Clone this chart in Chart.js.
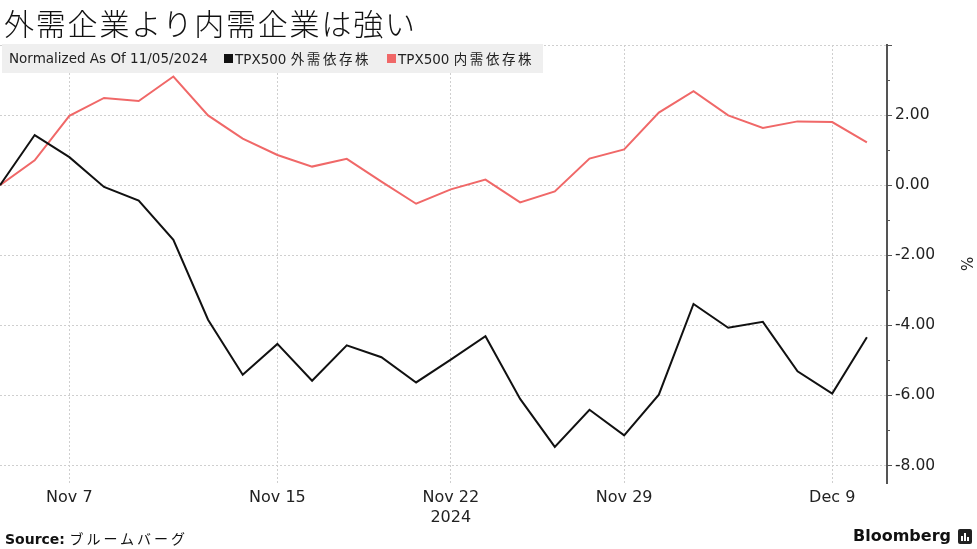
<!DOCTYPE html>
<html>
<head>
<meta charset="utf-8">
<script src="https://cdn.jsdelivr.net/npm/chart.js@4.4.1/dist/chart.umd.min.js"></script>
<style>
    body { margin: 0; background: #fff; }
    #wrap { position: relative; width: 977px; height: 549px; overflow: hidden; font-family: "DejaVu Sans", "Noto Sans CJK JP", sans-serif; }
    #chart { position: absolute; left: 0; top: 0; }
    .title { position: absolute; left: 4px; top: 0px; font-size: 30px; letter-spacing: 1.8px; color: #111; font-family: "Noto Sans CJK JP", sans-serif; font-weight: 300; }
    .legend { position: absolute; left: 2px; top: 44px; width: 541px; height: 29px; background: #efefef; font-size: 13.5px; color: #222; line-height: 29px; white-space: nowrap; }
    .legend span { position: absolute; top: 0; }
    .legend .sw { width: 9px; height: 9px; top: 10px; }
    .legend i { font-style: normal; letter-spacing: 2.6px; font-family: "Noto Sans CJK JP", sans-serif; }
    .source { position: absolute; left: 5px; top: 528px; font-size: 14px; color: #111; }
    .source b { font-weight: bold; }
    .source i { font-style: normal; letter-spacing: 3px; font-family: "Noto Sans CJK JP", sans-serif; font-weight: 400; }
    .brand { position: absolute; left: 853px; top: 526px; font-size: 16px; font-weight: bold; color: #111; }
    .logo { position: absolute; left: 958px; top: 529px; width: 14px; height: 15px; background: #222; border-radius: 2px; }
    .logo b { position: absolute; bottom: 3px; width: 2px; background: #fff; }
</style>
</head>
<body>
<div id="wrap">
    <canvas id="chart" width="977" height="549"></canvas>
    <div class="title">外需企業より内需企業は強い</div>
    <div class="legend">
        <span style="left:7px">Normalized As Of 11/05/2024</span>
        <span class="sw" style="left:222px; background:#111"></span>
        <span style="left:233px">TPX500 <i>外需依存株</i></span>
        <span class="sw" style="left:385px; background:#f06868"></span>
        <span style="left:396px">TPX500 <i>内需依存株</i></span>
    </div>
    <div class="source"><b>Source:</b> <i>ブルームバーグ</i></div>
    <div class="brand">Bloomberg</div>
    <div class="logo"><b style="left:3px;height:5px"></b><b style="left:6px;height:8px"></b><b style="left:9px;height:4px"></b></div>
</div>
<script>
// Trading days, Nov 5 - Dec 10 2024
const dates = ['Nov 5', 'Nov 6', 'Nov 7', 'Nov 8', 'Nov 11', 'Nov 12', 'Nov 13', 'Nov 14', 'Nov 15',
    'Nov 18', 'Nov 19', 'Nov 20', 'Nov 21', 'Nov 22', 'Nov 25', 'Nov 26', 'Nov 27', 'Nov 28', 'Nov 29',
    'Dec 2', 'Dec 3', 'Dec 4', 'Dec 5', 'Dec 6', 'Dec 9', 'Dec 10'];

// TPX500 外需依存株 (%)
const externalDemand = [0, 1.43, 0.80, -0.05, -0.44, -1.56, -3.84, -5.41, -4.53, -5.58, -4.57, -4.91, -5.63,
    -4.98, -4.31, -6.10, -7.47, -6.41, -7.14, -5.98, -3.39, -4.07, -3.90, -5.31, -5.95, -4.34];

// TPX500 内需依存株 (%)
const domesticDemand = [0, 0.71, 1.98, 2.49, 2.40, 3.10, 1.99, 1.33, 0.86, 0.53, 0.75, 0.10, -0.53,
    -0.12, 0.16, -0.49, -0.18, 0.76, 1.02, 2.07, 2.68, 1.99, 1.63, 1.82, 1.80, 1.22];

const shownDates = ['Nov 7', 'Nov 15', 'Nov 22', 'Nov 29', 'Dec 9'];
const yearLabel = { 'Nov 22': '2024' };
const yTickValues = [-8, -7, -6, -5, -4, -3, -2, -1, 0, 1, 2, 3, 4];

const toPoints = arr => arr.map((v, i) => ({ x: i, y: v }));

// short minor ticks on the right axis
const minorTicks = {
    id: 'minorTicks',
    afterDraw(chart) {
        const y = chart.scales.y;
        const ctx = chart.ctx;
        ctx.save();
        ctx.strokeStyle = '#555';
        ctx.lineWidth = 1;
        yTickValues.filter(v => Math.abs(v % 2) === 1).forEach(v => {
            const py = Math.round(y.getPixelForValue(v)) + 0.5;
            ctx.beginPath();
            ctx.moveTo(y.left, py);
            ctx.lineTo(y.left + 3, py);
            ctx.stroke();
        });
        ctx.restore();
    }
};

new Chart(document.getElementById('chart').getContext('2d'), {
    type: 'line',
    data: {
        datasets: [{
            label: 'TPX500 外需依存株',
            data: toPoints(externalDemand),
            borderColor: '#111',
            borderWidth: 2
        }, {
            label: 'TPX500 内需依存株',
            data: toPoints(domesticDemand),
            borderColor: '#f06868',
            borderWidth: 2
        }]
    },
    options: {
        responsive: false,
        animation: false,
        layout: { padding: { top: 45, left: 0, right: 0, bottom: 0 } },
        elements: { point: { radius: 0 }, line: { tension: 0 } },
        plugins: { legend: { display: false }, tooltip: { enabled: false } },
        scales: {
            x: {
                type: 'linear',
                min: 0,
                max: 25.58,
                afterBuildTicks: scale => {
                    scale.ticks = shownDates.map(d => ({ value: dates.indexOf(d) }));
                },
                afterFit: scale => { scale.height = 66; },
                ticks: {
                    autoSkip: false,
                    maxRotation: 0,
                    padding: 4,
                    color: '#222',
                    font: { family: 'DejaVu Sans', size: 16, lineHeight: 1.3 },
                    callback: v => {
                        const d = dates[v];
                        return yearLabel[d] ? [d, yearLabel[d]] : d;
                    }
                },
                grid: { color: '#cfcfcf', lineWidth: 1, drawTicks: false },
                border: { display: false, dash: [2, 2] }
            },
            y: {
                position: 'right',
                min: -8.5,
                max: 4,
                afterBuildTicks: scale => {
                    scale.ticks = yTickValues.map(v => ({ value: v }));
                },
                afterFit: scale => { scale.width = 90; },
                ticks: {
                    padding: 3,
                    color: '#222',
                    font: { family: 'DejaVu Sans', size: 15.5 },
                    callback: v => (v % 2 === 0 && v < 4) ? v.toFixed(2) : ''
                },
                grid: {
                    color: ctx => (ctx.tick && ctx.tick.value % 2 === 0) ? '#cfcfcf' : 'rgba(0,0,0,0)',
                    tickColor: ctx => (ctx.tick && ctx.tick.value % 2 === 0) ? '#555' : 'rgba(0,0,0,0)',
                    tickLength: 5,
                    tickWidth: 1
                },
                border: { display: true, color: '#555', width: 2, dash: [2, 2] },
                title: {
                    display: true,
                    text: '%',
                    color: '#222',
                    font: { family: 'DejaVu Sans', size: 15 },
                    padding: { top: 3, bottom: 0 }
                }
            }
        }
    },
    plugins: [minorTicks]
});
</script>
</body>
</html>
